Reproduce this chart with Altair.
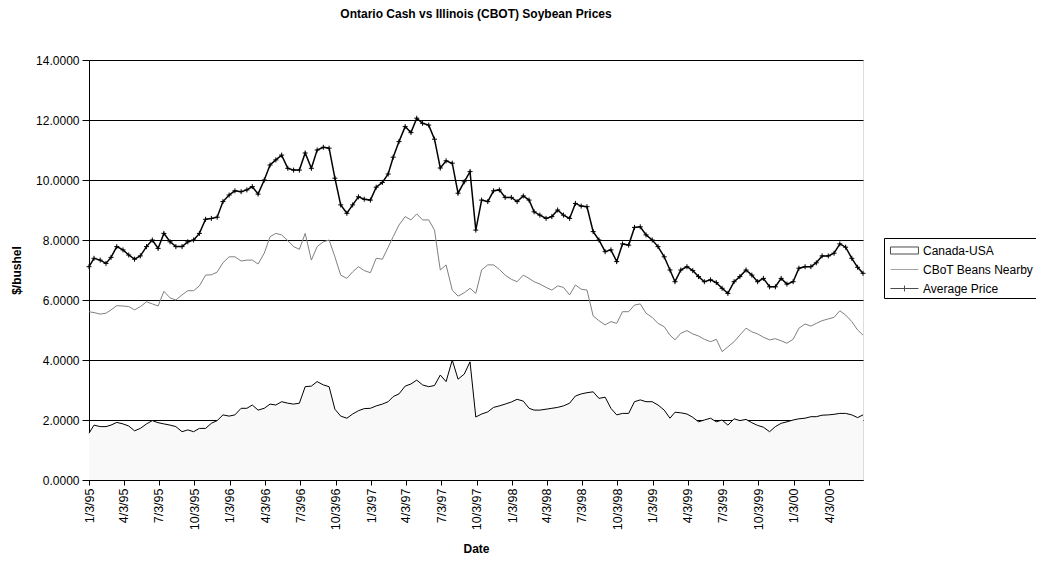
import altair as alt
import pandas as pd

# ---- x categories: semi-monthly sample dates ----
dates = []
for yy in range(1995, 2001):
    for mm in range(1, 13):
        if (yy, mm) <= (2000, 6):
            for dd in (1, 16):
                dates.append(f"{yy}-{mm:02d}-{dd:02d}")
dates[0] = "1995-01-03"
dates.append("2000-06-30")

avg_price = [
    7.11, 7.39, 7.33, 7.22, 7.42, 7.78, 7.67, 7.50, 7.36, 7.47,
    7.78, 8.00, 7.72, 8.22, 7.94, 7.78, 7.78, 7.94, 8.00, 8.22,
    8.69, 8.72, 8.76, 9.28, 9.50, 9.64, 9.61, 9.67, 9.78, 9.53,
    10.00, 10.50, 10.67, 10.83,
    10.39, 10.33, 10.33, 10.90, 10.39, 11.00, 11.09, 11.06, 10.06, 9.17,
    8.89, 9.17, 9.44, 9.36, 9.33, 9.76, 9.92, 10.20, 10.76, 11.28,
    11.78, 11.58, 12.06, 11.89, 11.83, 11.36, 10.40, 10.64, 10.56, 9.56,
    9.94, 10.28, 8.33,
    9.33, 9.28, 9.64, 9.67, 9.42, 9.42, 9.28, 9.47, 9.33, 8.94,
    8.83, 8.72, 8.78, 9.00, 8.83, 8.72, 9.22, 9.13, 9.11, 8.28,
    8.00, 7.61, 7.67, 7.28, 7.87, 7.83, 8.42, 8.44, 8.17, 8.00,
    7.78, 7.44, 7.00,
    6.61, 7.00, 7.11, 6.98, 6.78, 6.61, 6.67, 6.58, 6.39, 6.22,
    6.61, 6.78, 7.00, 6.83, 6.61, 6.72, 6.44, 6.44, 6.72, 6.53,
    6.61, 7.06, 7.11, 7.11, 7.24, 7.47, 7.47, 7.56, 7.87, 7.76,
    7.39, 7.09, 6.89,
]

cbot_nearby = [
    5.61, 5.58, 5.53, 5.56, 5.67, 5.81, 5.80, 5.78, 5.67, 5.78,
    5.94, 5.87, 5.80, 6.29, 6.07, 6.00, 6.17, 6.31, 6.31, 6.47,
    6.83, 6.84, 6.93, 7.24, 7.44, 7.44, 7.30, 7.33, 7.33, 7.20,
    7.56, 8.11, 8.22, 8.17,
    7.98, 7.78, 7.69, 8.22, 7.33, 7.78, 7.94, 8.00, 7.44, 6.83,
    6.72, 6.94, 7.11, 6.98, 6.91, 7.39, 7.36, 7.76, 8.11, 8.50,
    8.78, 8.67, 8.87, 8.67, 8.67, 8.33, 7.00, 7.17, 6.33, 6.13,
    6.24, 6.39, 6.22,
    7.00, 7.17, 7.17, 7.02, 6.83, 6.69, 6.61, 6.83, 6.72, 6.61,
    6.53, 6.42, 6.33, 6.47, 6.42, 6.17, 6.50, 6.36, 6.33, 5.47,
    5.31, 5.17, 5.28, 5.22, 5.61, 5.61, 5.83, 5.87, 5.56, 5.42,
    5.22, 5.11, 4.83,
    4.67, 4.89, 4.98, 4.87, 4.80, 4.69, 4.61, 4.69, 4.28, 4.44,
    4.61, 4.83, 5.06, 4.94, 4.87, 4.76, 4.67, 4.71, 4.64, 4.56,
    4.69, 5.06, 5.20, 5.13, 5.22, 5.31, 5.37, 5.42, 5.64, 5.50,
    5.28, 5.00, 4.83,
]

canada_usa = [
    1.56, 1.83, 1.78, 1.78, 1.83, 1.92, 1.87, 1.80, 1.64, 1.72,
    1.87, 1.98, 1.91, 1.87, 1.83, 1.78, 1.61, 1.67, 1.61, 1.72,
    1.72, 1.89, 1.98, 2.17, 2.13, 2.17, 2.39, 2.39, 2.50, 2.33,
    2.39, 2.53, 2.50, 2.61,
    2.56, 2.53, 2.56, 3.11, 3.13, 3.28, 3.17, 3.11, 2.36, 2.13,
    2.06, 2.20, 2.31, 2.38, 2.39, 2.47, 2.53, 2.61, 2.78, 2.87,
    3.13, 3.20, 3.33, 3.17, 3.11, 3.15, 3.50, 3.28, 4.00, 3.36,
    3.53, 3.94, 2.10,
    2.20, 2.27, 2.42, 2.47, 2.53, 2.60, 2.69, 2.63, 2.39, 2.33,
    2.33, 2.36, 2.39, 2.42, 2.47, 2.56, 2.80, 2.87, 2.91, 2.94,
    2.72, 2.76, 2.39, 2.17, 2.22, 2.22, 2.61, 2.67, 2.61, 2.61,
    2.50, 2.33, 2.06,
    2.26, 2.24, 2.20, 2.09, 1.94, 2.00, 2.06, 1.94, 2.00, 1.83,
    2.04, 1.98, 2.02, 1.91, 1.82, 1.76, 1.61, 1.78, 1.89, 1.94,
    2.00, 2.04, 2.06, 2.11, 2.11, 2.16, 2.17, 2.19, 2.22, 2.22,
    2.17, 2.08, 2.17,
]

tick_dates = [(y, m) for y in range(1995, 2001) for m in (1, 4, 7, 10) if (y, m) <= (2000, 4)]
y_ticks = [0, 2, 4, 6, 8, 10, 12, 14]
series_names = ["Canada-USA", "CBoT Beans Nearby", "Average Price"]
series_colors = ["#000000", "#808080", "#000000"]
series_shapes = [
    "M-0.67,-0.39H2.44V0.39H-0.67Z",
    "M-0.67,0H2.44",
    "M-0.67,0H2.44M0.89,-0.33V0.33",
]

df = pd.DataFrame({"date": dates, "canada": canada_usa, "cbot": cbot_nearby, "avg": avg_price})
leg_df = pd.DataFrame({"series": series_names, "date": ["1995-06-01"] * 3, "v": [-5, -5, -5]})

FONT = "Liberation Sans"

x_scale = alt.Scale(
    type="utc",
    domain=[alt.DateTime(year=1995, month=1, date=3, utc=True),
            alt.DateTime(year=2000, month=6, date=30, utc=True)],
)
x_axis = alt.Axis(
    values=[alt.DateTime(year=y, month=m, date=3, utc=True) for y, m in tick_dates],
    labelExpr="utcFormat(datum.value, '%-m/%-d/%y')", labelAngle=-90,
    title="Date", titleFont=FONT, titleFontSize=12, titleFontWeight="bold", titlePadding=14,
    labelFont=FONT, labelFontSize=12.5, labelColor="black", labelPadding=3,
    tickSize=5, tickColor="black", domainColor="black", grid=False, titleColor="black",
)
y_scale = alt.Scale(domain=[0, 14], nice=False)
y_axis = alt.Axis(
    values=y_ticks, format=".4f", title="$/bushel", titleFont=FONT, titleFontSize=12,
    titleFontWeight="bold", titlePadding=12, titleColor="black",
    labelFont=FONT, labelFontSize=12, labelColor="black", labelPadding=3,
    tickSize=7, tickColor="black", domainColor="black",
    grid=True, gridColor="black", gridWidth=1,
)

x_enc = alt.X("date:T", scale=x_scale, axis=x_axis)

area = alt.Chart(df).mark_area(
    color="#F9F9F9", opacity=1,
    line=alt.OverlayMarkDef(color="black", strokeWidth=1),
).encode(x=x_enc, y=alt.Y("canada:Q", scale=y_scale, axis=y_axis))

cbot_line = alt.Chart(df).mark_line(color="#808080", strokeWidth=1).encode(
    x=x_enc, y=alt.Y("cbot:Q", scale=y_scale, axis=y_axis))

avg_line = alt.Chart(df).mark_line(
    color="black", strokeWidth=1.5,
    point=alt.OverlayMarkDef(shape="M-1,0H1M0,-1V1", filled=False, size=25,
                             color="black", strokeWidth=1),
).encode(x=x_enc, y=alt.Y("avg:Q", scale=y_scale, axis=y_axis))

legend = alt.Legend(
    title=None, orient="none", legendX=795, legendY=178,
    strokeColor="black", fillColor="white", padding=3,
    symbolSize=324, symbolStrokeWidth=1, labelOffset=17, rowPadding=3,
    labelFont=FONT, labelFontSize=12, labelColor="black",
)
legend_pts = alt.Chart(leg_df).mark_point(filled=False, clip=True).encode(
    x=x_enc,
    y=alt.Y("v:Q", scale=y_scale, axis=y_axis),
    color=alt.Color("series:N", scale=alt.Scale(domain=series_names, range=series_colors), legend=legend),
    shape=alt.Shape("series:N", scale=alt.Scale(domain=series_names, range=series_shapes), legend=legend),
)

chart = alt.layer(area, cbot_line, avg_line, legend_pts).properties(
    width=774, height=420,
    title=alt.Title("Ontario Cash vs Illinois (CBOT) Soybean Prices", font=FONT, fontSize=12,
                    fontWeight="bold", color="black", anchor="middle", offset=33),
    autosize=alt.AutoSizeParams(type="none"),
    padding={"left": 81, "top": 52, "right": 173, "bottom": 77},
).configure_view(stroke="#808080", strokeWidth=1).configure(background="white")

chart.save("out.html", embed_options={"renderer": "svg", "actions": False})
